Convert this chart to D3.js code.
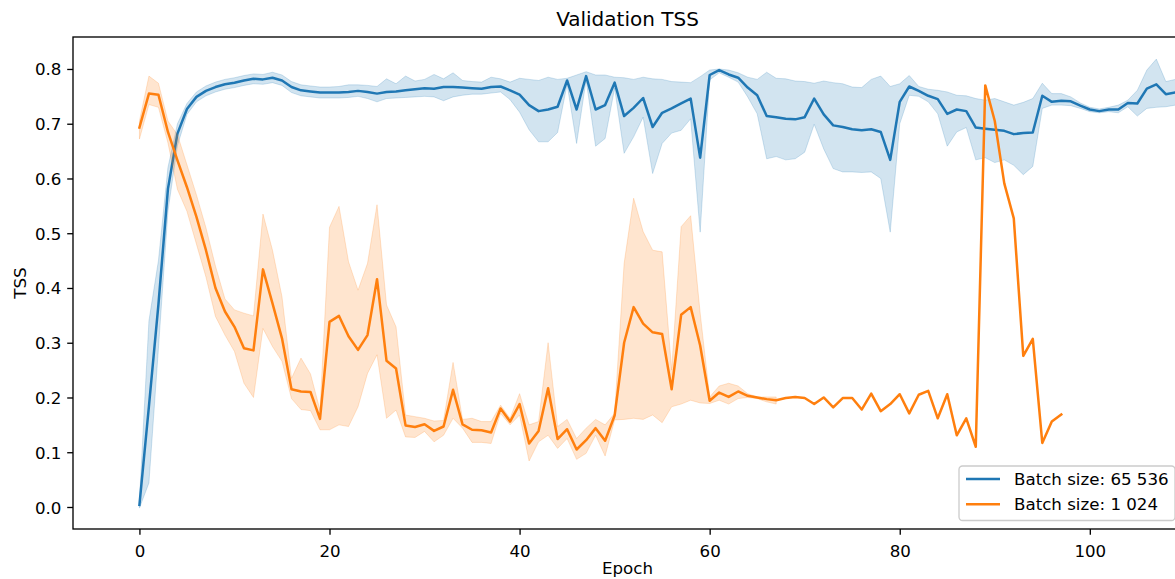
<!DOCTYPE html>
<html>
<head>
<meta charset="utf-8">
<script src="https://cdn.jsdelivr.net/npm/d3@7"></script>
<style>
  html, body { margin: 0; padding: 0; background: #fff; }
  svg { display: block; }
  text { font-family: "DejaVu Sans", sans-serif; fill: #000; }
</style>
</head>
<body>
<svg id="chart" width="1175" height="579"></svg>
<script>
// ---------- data ----------
const title = "Validation TSS";
const xLabel = "Epoch";
const yLabel = "TSS";
const seriesNames = ["Batch size: 65 536", "Batch size: 1 024"];
const xTicks = [0, 20, 40, 60, 80, 100];
const yTicks = [0.0, 0.1, 0.2, 0.3, 0.4, 0.5, 0.6, 0.7, 0.8];

// Batch size 65 536 (epochs 0..110)
const blueMean = [0.004,0.184,0.37,0.581,0.682,0.727,0.749,0.760,0.767,0.772,
  0.775,0.779,0.782,0.781,0.784,0.779,0.767,0.761,0.759,0.757,
  0.757,0.757,0.758,0.760,0.758,0.755,0.758,0.759,0.761,0.763,
  0.765,0.764,0.767,0.767,0.766,0.765,0.764,0.767,0.768,0.761,
  0.753,0.734,0.723,0.726,0.731,0.779,0.726,0.787,0.726,0.734,
  0.775,0.714,0.729,0.747,0.694,0.720,0.728,0.737,0.746,0.638,
  0.789,0.798,0.790,0.784,0.766,0.752,0.714,0.712,0.709,0.708,
  0.712,0.746,0.717,0.697,0.694,0.690,0.688,0.690,0.685,0.634,
  0.740,0.768,0.760,0.751,0.745,0.718,0.726,0.723,0.693,0.691,
  0.689,0.687,0.681,0.683,0.684,0.751,0.740,0.742,0.741,0.733,
  0.726,0.723,0.726,0.726,0.738,0.737,0.764,0.772,0.754,0.757,0.760];
const blueUpper = [0.010,0.34,0.45,0.62,0.70,0.737,0.758,0.769,0.776,0.781,
  0.784,0.788,0.791,0.790,0.794,0.789,0.777,0.771,0.769,0.767,
  0.767,0.768,0.771,0.771,0.770,0.768,0.782,0.773,0.787,0.778,
  0.781,0.790,0.782,0.793,0.779,0.777,0.776,0.785,0.782,0.776,
  0.783,0.781,0.779,0.785,0.781,0.783,0.789,0.795,0.789,0.789,
  0.785,0.784,0.781,0.785,0.782,0.781,0.777,0.776,0.775,0.786,
  0.798,0.800,0.798,0.793,0.785,0.781,0.794,0.783,0.782,0.778,
  0.777,0.774,0.778,0.775,0.773,0.767,0.766,0.781,0.787,0.768,
  0.773,0.788,0.768,0.763,0.761,0.758,0.752,0.751,0.746,0.743,
  0.746,0.740,0.734,0.739,0.746,0.774,0.755,0.755,0.749,0.738,
  0.730,0.727,0.730,0.734,0.743,0.761,0.798,0.818,0.777,0.781,0.782];
const blueLower = [-0.002,0.044,0.29,0.54,0.66,0.717,0.740,0.751,0.758,0.763,
  0.766,0.770,0.773,0.772,0.775,0.770,0.757,0.751,0.749,0.747,
  0.747,0.747,0.748,0.750,0.746,0.740,0.746,0.747,0.748,0.749,
  0.750,0.749,0.742,0.749,0.752,0.754,0.754,0.756,0.758,0.744,
  0.721,0.689,0.667,0.667,0.684,0.772,0.664,0.780,0.659,0.673,
  0.765,0.646,0.676,0.712,0.609,0.664,0.683,0.688,0.709,0.502,
  0.780,0.793,0.785,0.776,0.749,0.718,0.636,0.640,0.634,0.636,
  0.648,0.699,0.654,0.618,0.612,0.612,0.611,0.612,0.600,0.502,
  0.700,0.752,0.750,0.740,0.718,0.659,0.685,0.693,0.634,0.638,
  0.629,0.634,0.624,0.607,0.622,0.728,0.734,0.734,0.733,0.728,
  0.722,0.720,0.722,0.720,0.731,0.714,0.728,0.730,0.731,0.734,0.736];

// Batch size 1 024 (epochs 0..97)
const orangeMean = [0.693,0.755,0.753,0.685,0.633,0.584,0.530,0.469,0.400,0.357,
  0.329,0.290,0.286,0.434,0.372,0.308,0.215,0.211,0.210,0.161,
  0.338,0.349,0.312,0.287,0.314,0.416,0.267,0.253,0.149,0.146,
  0.151,0.139,0.147,0.214,0.151,0.141,0.140,0.136,0.180,0.156,
  0.188,0.116,0.139,0.217,0.124,0.142,0.105,0.122,0.144,0.121,
  0.167,0.300,0.365,0.335,0.319,0.316,0.215,0.351,0.365,0.295,
  0.194,0.209,0.201,0.211,0.203,0.200,0.197,0.195,0.199,0.201,
  0.199,0.188,0.200,0.182,0.199,0.199,0.178,0.207,0.175,0.188,
  0.206,0.171,0.205,0.212,0.162,0.206,0.131,0.162,0.110,0.770,
  0.705,0.591,0.527,0.276,0.307,0.117,0.156,0.169];
// spread only exists for epochs 0..67
const orangeUpper = [0.705,0.787,0.774,0.705,0.68,0.625,0.57,0.51,0.44,0.38,
  0.36,0.354,0.349,0.535,0.469,0.384,0.235,0.272,0.243,0.177,
  0.511,0.549,0.448,0.396,0.445,0.552,0.369,0.329,0.168,0.165,
  0.162,0.157,0.158,0.264,0.160,0.162,0.156,0.156,0.186,0.162,
  0.207,0.150,0.156,0.300,0.147,0.160,0.125,0.144,0.160,0.150,
  0.171,0.445,0.564,0.503,0.469,0.466,0.25,0.512,0.532,0.354,
  0.201,0.221,0.226,0.221,0.207,0.201,0.201,0.201];
const orangeLower = [0.672,0.735,0.73,0.665,0.58,0.54,0.48,0.42,0.348,0.314,
  0.284,0.226,0.200,0.326,0.293,0.266,0.198,0.178,0.176,0.141,
  0.141,0.150,0.147,0.183,0.244,0.278,0.162,0.177,0.128,0.127,
  0.138,0.119,0.131,0.162,0.144,0.118,0.118,0.116,0.171,0.150,
  0.168,0.084,0.119,0.131,0.107,0.125,0.087,0.098,0.131,0.093,
  0.159,0.160,0.162,0.160,0.168,0.154,0.183,0.188,0.195,0.190,
  0.189,0.195,0.188,0.198,0.200,0.198,0.192,0.188];

const colors = ["#1f77b4", "#ff7f0e"];

// ---------- layout ----------
const L = 73, R = 1182, T = 37, B = 529;
const FS = 16.67;

const svg = d3.select("#chart");
const x = d3.scaleLinear().domain([-6.99, 109.7]).range([L, R]);
const y = d3.scaleLinear().domain([-0.0402, 0.8584]).range([B, T]);

svg.append("defs").append("clipPath").attr("id", "clip")
  .append("rect").attr("x", L).attr("y", T).attr("width", R - L).attr("height", B - T);

const plot = svg.append("g").attr("clip-path", "url(#clip)");

function band(up, lo) {
  return up.map((u, i) => ({ i, u, l: lo[i] }));
}
const area = d3.area().x(d => x(d.i)).y0(d => y(d.l)).y1(d => y(d.u));
const line = d3.line().x((d, i) => x(i)).y(d => y(d));

const series = [
  { mean: blueMean, up: blueUpper, lo: blueLower, color: colors[0] },
  { mean: orangeMean, up: orangeUpper, lo: orangeLower, color: colors[1] }
];
series.forEach(s => {
  plot.append("path").datum(band(s.up, s.lo))
    .attr("d", area).attr("fill", s.color).attr("fill-opacity", 0.2)
    .attr("stroke", s.color).attr("stroke-opacity", 0.2).attr("stroke-width", 1);
  plot.append("path").datum(s.mean)
    .attr("d", line).attr("fill", "none").attr("stroke", s.color)
    .attr("stroke-width", 2.5).attr("stroke-linejoin", "round").attr("stroke-linecap", "square");
});

// ---------- axes ----------
const xAxis = d3.axisBottom(x).tickValues(xTicks).tickFormat(d3.format("d"))
  .tickSize(5.8).tickPadding(5.8);
const gx = svg.append("g").attr("transform", `translate(0,${B})`).call(xAxis);
const yAxis = d3.axisLeft(y).tickValues(yTicks).tickFormat(d3.format(".1f"))
  .tickSize(5.8).tickPadding(5.8);
const gy = svg.append("g").attr("transform", `translate(${L},0)`).call(yAxis);
[gx, gy].forEach(g => {
  g.select(".domain").remove();
  g.selectAll(".tick line").attr("stroke", "#000").attr("stroke-width", 1.33);
  g.selectAll(".tick text").attr("font-size", FS).attr("font-family", "DejaVu Sans").attr("fill", "#000");
});
gx.selectAll(".tick text").attr("dy", null).attr("y", null)
  .attr("transform", "translate(0,28)");
gy.selectAll(".tick text").attr("dy", "0.36em");

// spines
svg.append("rect").attr("x", L).attr("y", T).attr("width", R - L).attr("height", B - T)
  .attr("fill", "none").attr("stroke", "#000").attr("stroke-width", 1.33);

// labels
svg.append("text").attr("x", (L + R) / 2).attr("y", 26).attr("text-anchor", "middle")
  .attr("font-size", 20).text(title);
svg.append("text").attr("x", (L + R) / 2).attr("y", 574).attr("text-anchor", "middle")
  .attr("font-size", FS).text(xLabel);
svg.append("text").attr("transform", `translate(26,${(T + B) / 2}) rotate(-90)`)
  .attr("text-anchor", "middle").attr("font-size", FS).text(yLabel);

// ---------- legend ----------
const lg = svg.append("g");
const lgX = 959, lgY = 466, lgW = 216, lgH = 54.5;
lg.append("rect").attr("x", lgX).attr("y", lgY).attr("width", lgW).attr("height", lgH)
  .attr("rx", 3.5).attr("fill", "#fff").attr("fill-opacity", 0.8)
  .attr("stroke", "#cccccc").attr("stroke-width", 1.33);
seriesNames.forEach((name, i) => {
  const cy = 479 + i * 25.3;
  lg.append("line").attr("x1", 966).attr("x2", 1000).attr("y1", cy).attr("y2", cy)
    .attr("stroke", colors[i]).attr("stroke-width", 2.5);
  lg.append("text").attr("x", 1014).attr("y", cy).attr("dy", "0.36em")
    .attr("font-size", FS).text(name);
});
</script>
</body>
</html>
